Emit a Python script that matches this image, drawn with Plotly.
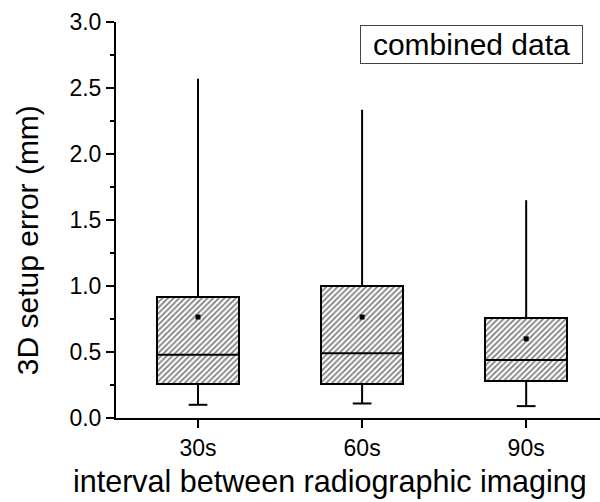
import plotly.graph_objects as go

categories = ["30s", "60s", "90s"]
lower = [0.10, 0.11, 0.09]
q1 = [0.26, 0.26, 0.28]
median = [0.48, 0.49, 0.44]
q3 = [0.92, 1.00, 0.76]
upper = [2.57, 2.335, 1.65]
mean = [0.765, 0.765, 0.60]

y_ticks = [0.0, 0.5, 1.0, 1.5, 2.0, 2.5, 3.0]
y_ticklabels = ["0.0", "0.5", "1.0", "1.5", "2.0", "2.5", "3.0"]

xs = list(range(len(categories)))
box_w = 0.5
cap_w = 0.057

fig = go.Figure()

# whiskers
wx, wy = [], []
for i in xs:
    wx += [i, i, None, i, i, None, i - cap_w, i + cap_w, None]
    wy += [q3[i], upper[i], None, q1[i], lower[i], None, lower[i], lower[i], None]
fig.add_trace(go.Scatter(x=wx, y=wy, mode="lines", line=dict(color="black", width=2),
                         hoverinfo="skip", showlegend=False))

# boxes
fig.add_trace(go.Bar(
    x=xs, y=[q3[i] - q1[i] for i in xs], base=q1, width=box_w,
    marker=dict(color="white", line=dict(color="black", width=2),
                pattern=dict(shape="/", fgcolor="black", bgcolor="white", size=4, solidity=0.45)),
    showlegend=False))

# medians
mx, my = [], []
for i in xs:
    mx += [i - box_w / 2, i + box_w / 2, None]
    my += [median[i], median[i], None]
fig.add_trace(go.Scatter(x=mx, y=my, mode="lines", line=dict(color="black", width=2),
                         showlegend=False))

# means
fig.add_trace(go.Scatter(x=xs, y=mean, mode="markers",
                         marker=dict(symbol="square", size=5, color="black"),
                         showlegend=False))

font_family = "Liberation Sans, Arial, sans-serif"

fig.update_layout(
    width=600, height=502,
    margin=dict(l=116, r=0, t=22, b=84, autoexpand=False),
    plot_bgcolor="white", paper_bgcolor="white",
    font=dict(family=font_family, color="black"),
    bargap=0,
    xaxis=dict(range=[-0.5, 2.45], tickvals=xs, ticktext=categories,
               showline=True, linecolor="black", linewidth=2,
               ticks="outside", ticklen=8, tickwidth=2, tickcolor="black",
               showgrid=False, zeroline=False, tickfont=dict(size=23), automargin=False),
    yaxis=dict(range=[0, 3], tickvals=y_ticks, ticktext=y_ticklabels,
               showline=True, linecolor="black", linewidth=2,
               ticks="outside", ticklen=8, tickwidth=2, tickcolor="black",
               minor=dict(dtick=0.25, ticks="outside", ticklen=4, tickwidth=2, tickcolor="black", showgrid=False),
               showgrid=False, zeroline=False, tickfont=dict(size=23), automargin=False),
    annotations=[
        dict(text="combined data", xref="paper", yref="paper",
             x=0.965, y=0.992, xanchor="right", yanchor="top",
             width=219, height=35, align="center",
             showarrow=False, font=dict(size=30),
             bordercolor="#444", borderwidth=1, borderpad=1, bgcolor="white"),
        dict(text="3D setup error (mm)", xref="paper", yref="paper",
             x=0, xshift=-89, y=0.449, xanchor="center", yanchor="middle",
             textangle=-90, showarrow=False, font=dict(size=30)),
        dict(text="interval between radiographic imaging", xref="paper", yref="paper",
             x=0.442, y=-0.160, xanchor="center", yanchor="middle",
             showarrow=False, font=dict(size=30.5)),
    ],
)

fig.write_html("out.html", config={"displayModeBar": False},
               post_script="document.body.style.margin='0';document.body.style.overflow='hidden';")
